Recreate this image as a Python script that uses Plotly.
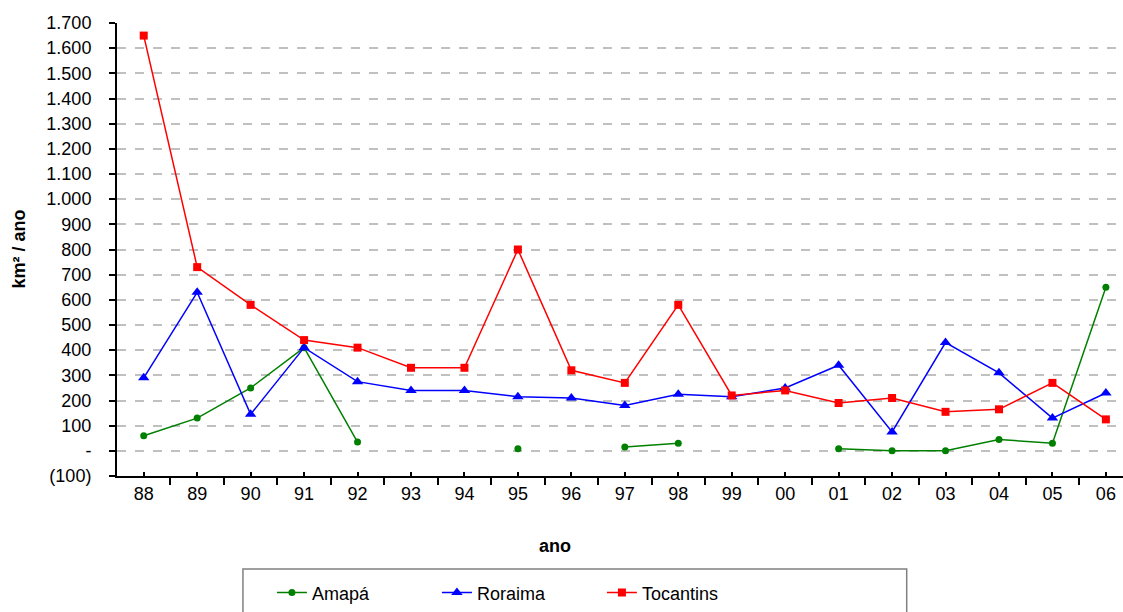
import plotly.graph_objects as go

# Annual deforestation (km² / ano) by state
anos = ["88", "89", "90", "91", "92", "93", "94", "95", "96", "97",
        "98", "99", "00", "01", "02", "03", "04", "05", "06"]

amapa = [60, 130, 250, 410, 35, None, None, 8, None, 15,
         30, None, None, 8, 0, 0, 45, 30, 650]
roraima = [290, 630, 145, 410, 275, 240, 240, 215, 210, 180,
           225, 215, 250, 340, 75, 430, 310, 130, 230]
tocantins = [1650, 730, 580, 440, 410, 330, 330, 800, 320, 270,
             580, 220, 240, 190, 210, 155, 165, 270, 125]

y_ticks = list(range(-100, 1800, 100))
y_labels = ["(100)", "-"] + [f"{v:,}".replace(",", ".") for v in y_ticks[2:]]

pos = list(range(len(anos)))
FONT = "Liberation Sans, Arial, sans-serif"

fig = go.Figure()
series = [
    ("Amapá", amapa, "#008000", "circle", 7),
    ("Roraima", roraima, "#0000FF", "triangle-up", 10),
    ("Tocantins", tocantins, "#FF0000", "square", 8),
]
for name, vals, color, sym, size in series:
    fig.add_trace(go.Scatter(
        x=pos, y=vals, name=name, mode="lines+markers",
        connectgaps=False,
        line=dict(color=color, width=1.5),
        marker=dict(color=color, symbol=sym, size=size),
    ))

fig.update_layout(
    width=1123, height=612,
    margin=dict(l=117, r=0, t=23, b=136, autoexpand=False),
    paper_bgcolor="white", plot_bgcolor="white",
    font=dict(family=FONT, size=18, color="black"),
    showlegend=True,
    legend=dict(
        orientation="h", x=0.154, y=-0.217, xanchor="left", yanchor="top",
        bgcolor="rgba(0,0,0,0)", borderwidth=0,
        entrywidth=120, font=dict(size=18),
        traceorder="normal",
    ),
    xaxis=dict(
        range=[-0.5, 18.32],
        tickmode="array", tickvals=pos, ticktext=anos,
        ticks="inside", ticklen=4, tickwidth=1.5, tickcolor="black",
        minor=dict(tickmode="linear", tick0=0.5, dtick=1, ticks="outside",
                   ticklen=7, tickwidth=1.5, tickcolor="black", showgrid=False),
        showline=True, linecolor="black", linewidth=2,
        showgrid=False, zeroline=False,
        tickfont=dict(size=18),
    ),
    yaxis=dict(
        range=[-100, 1700],
        tickmode="array", tickvals=y_ticks, ticktext=y_labels,
        ticks="outside", ticklen=6, tickwidth=1.5, tickcolor="black",
        ticklabelstandoff=14,
        showline=True, linecolor="black", linewidth=2,
        showgrid=True, gridcolor="#C0C0C0", griddash="dash", gridwidth=1.5,
        zeroline=False,
        tickfont=dict(size=18),
    ),
    shapes=[dict(
        type="rect", xref="paper", yref="paper",
        x0=0.1252, x1=0.785, y0=-0.2053, y1=-0.40,
        line=dict(color="#808080", width=1.5), fillcolor="rgba(0,0,0,0)",
        layer="below",
    )],
    annotations=[
        dict(text="<b>km² / ano</b>", xref="paper", yref="paper",
             x=-0.0984, y=0.5, xanchor="center", yanchor="middle",
             textangle=-90, showarrow=False, font=dict(size=18)),
        dict(text="<b>ano</b>", xref="paper", yref="paper",
             x=0.435, y=-0.1545, xanchor="center", yanchor="middle",
             showarrow=False, font=dict(size=18)),
    ],
)

fig.write_html("out.html")
